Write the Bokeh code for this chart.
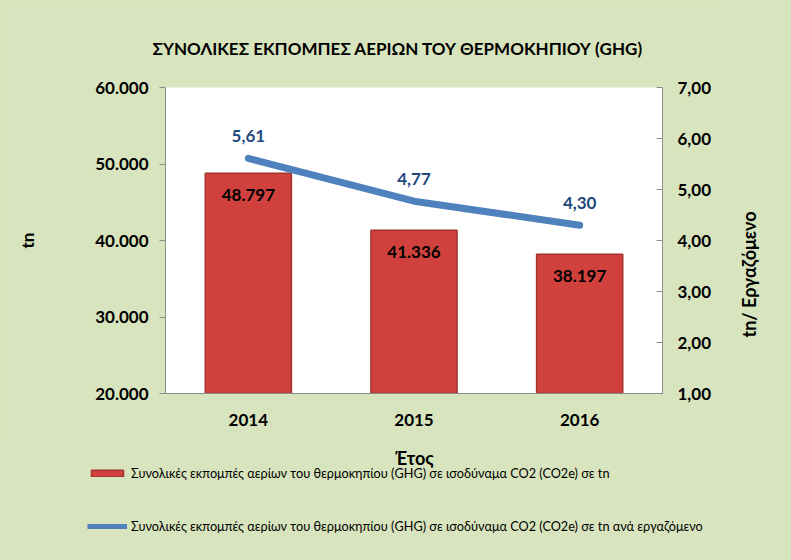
import math
from bokeh.plotting import figure
from bokeh.layouts import column, row
from bokeh.models import (Range1d, LinearAxis, FixedTicker, ColumnDataSource, LabelSet, Label,
                          Legend, LegendItem, FactorRange)
from bokeh.core.properties import value
from bokeh.embed import file_html
from bokeh.resources import INLINE

years = ["2014", "2015", "2016"]
ghg_tn = [48797, 41336, 38197]
ghg_per_employee = [5.61, 4.77, 4.30]
bar_labels = ["48.797", "41.336", "38.197"]
line_labels = ["5,61", "4,77", "4,30"]
left_ticks = [20000, 30000, 40000, 50000, 60000]
left_tick_labels = ["20.000", "30.000", "40.000", "50.000", "60.000"]
right_ticks = [1, 2, 3, 4, 5, 6, 7]
right_tick_labels = ["1,00", "2,00", "3,00", "4,00", "5,00", "6,00", "7,00"]
title_text = "ΣΥΝΟΛΙΚΕΣ ΕΚΠΟΜΠΕΣ ΑΕΡΙΩΝ ΤΟΥ ΘΕΡΜΟΚΗΠΙΟΥ (GHG)"
left_label = "tn"
right_label = "tn/ Εργαζόμενο"
x_label = "Έτος"
legend_bar = "Συνολικές εκπομπές αερίων του θερμοκηπίου (GHG) σε ισοδύναμα CO2 (CO2e) σε tn"
legend_line = "Συνολικές εκπομπές αερίων του θερμοκηπίου (GHG) σε ισοδύναμα CO2 (CO2e) σε tn ανά εργαζόμενο"

FONT = "Lato"
GREEN = "#D7E4BD"
AX_COLOR = "#8C8C8C"
BAR_FILL, BAR_LINE = "#D0403D", "#A33331"
LINE_COLOR = "#4F81BD"

src = ColumnDataSource(dict(year=years, ghg=ghg_tn, per=ghg_per_employee,
                            bar_label=bar_labels, line_label=line_labels))


def unalign(fig):
    if hasattr(fig, "frame_align"):
        fig.frame_align = False


# ---------------- main chart ----------------
p = figure(x_range=FactorRange(*years), y_range=Range1d(left_ticks[0], left_ticks[-1]),
           frame_width=497, frame_height=306, output_backend="svg", toolbar_location=None,
           min_border_left=165, min_border_right=58, min_border_top=87, min_border_bottom=47,
           background_fill_color="white", border_fill_color=GREEN, outline_line_color=None,
           title=title_text)
unalign(p)
p.extra_y_ranges = {"right": Range1d(right_ticks[0], right_ticks[-1])}
p.xgrid.visible = False
p.ygrid.visible = False

p.title.align = "left"
p.title.offset = -13
p.title.standoff = 57
p.title.text_font = FONT
p.title.text_font_size = "17px"
p.title.text_font_style = "bold"
p.title.text_color = "black"


def style_axis(ax):
    ax.axis_line_color = AX_COLOR
    ax.major_tick_line_color = AX_COLOR
    ax.minor_tick_line_color = None
    ax.major_label_text_font = FONT
    ax.major_label_text_font_style = "bold"
    ax.major_label_text_font_size = "17px"
    ax.major_label_text_color = "black"
    ax.axis_label_text_font = FONT
    ax.axis_label_text_font_style = "bold"
    ax.axis_label_text_font_size = "17px"
    ax.axis_label_text_color = "black"


ya = p.yaxis[0]
style_axis(ya)
ya.ticker = FixedTicker(ticks=left_ticks)
ya.major_label_overrides = dict(zip(left_ticks, left_tick_labels))
ya.major_tick_out = 6
ya.major_tick_in = 0
ya.major_label_standoff = 11
ya.axis_label = left_label
ya.axis_label_standoff = 54

xa = p.xaxis[0]
style_axis(xa)
xa.major_tick_line_color = None
xa.major_tick_out = 0
xa.major_label_standoff = 20

ra = LinearAxis(y_range_name="right", ticker=FixedTicker(ticks=right_ticks))
style_axis(ra)
ra.major_label_overrides = dict(zip(right_ticks, right_tick_labels))
ra.major_tick_in = 6
ra.major_tick_out = 0
ra.major_label_standoff = 15
p.add_layout(ra, "right")

bars = p.vbar(x="year", top="ghg", bottom=left_ticks[0], width=0.52, source=src,
              fill_color=BAR_FILL, line_color=BAR_LINE, line_width=1.5)
line = p.line(x="year", y="per", source=src, y_range_name="right",
              line_color=LINE_COLOR, line_width=7, line_cap="round", line_join="round")

p.add_layout(LabelSet(x="year", y="ghg", text="bar_label", source=src,
                      text_align="center", text_baseline="middle", y_offset=-22,
                      text_font=value(FONT), text_font_style="bold", text_font_size="17px",
                      text_color="black"))
p.add_layout(LabelSet(x="year", y="per", text="line_label", source=src, y_range_name="right",
                      text_align="center", text_baseline="middle", y_offset=22,
                      text_font=value(FONT), text_font_style="bold", text_font_size="17px",
                      text_color="#1F497D"))

# ---------------- right-hand axis title strip ----------------
r = figure(width=71, height=440, output_backend="svg", toolbar_location=None,
           min_border=0, x_axis_location=None, y_axis_location=None,
           background_fill_color=GREEN, border_fill_color=GREEN, outline_line_color=None)
unalign(r)
r.xgrid.visible = False
r.ygrid.visible = False
r.add_layout(Label(text=right_label, x=28, y=166, x_units="screen", y_units="screen",
                   angle=math.pi / 2, text_align="center", text_baseline="middle",
                   text_font=FONT, text_font_style="bold", text_font_size="18px",
                   text_color="black"))

# ---------------- legend strip ----------------
q = figure(x_range=FactorRange(*years), y_range=Range1d(0, 1),
           width=791, height=120, output_backend="svg", toolbar_location=None,
           min_border=0, x_axis_location=None, y_axis_location=None,
           background_fill_color=GREEN, border_fill_color=GREEN, outline_line_color=None)
unalign(q)
q.xgrid.visible = False
q.ygrid.visible = False
q_bars = q.vbar(x="year", top="ghg", width=0.52, source=src, visible=False,
                fill_color=BAR_FILL, line_color=BAR_LINE, line_width=1.5)
q_line = q.line(x="year", y="per", source=src, visible=False,
                line_color=LINE_COLOR, line_width=5)

q.add_layout(Label(text=x_label, x=414, y=103, x_units="screen", y_units="screen",
                   text_align="center", text_baseline="middle", text_font=FONT,
                   text_font_style="bold", text_font_size="18px", text_color="black"))

legend = Legend(items=[LegendItem(label=legend_bar, renderers=[q_bars]),
                       LegendItem(label=legend_line, renderers=[q_line])],
                location=(87, 24), orientation="vertical", spacing=33,
                glyph_width=40, glyph_height=8, label_height=20, padding=0, margin=0,
                border_line_color=None, background_fill_alpha=0, label_standoff=4,
                label_text_font=FONT, label_text_font_size="12.7px", label_text_color="black")
q.add_layout(legend)

layout = column(row(p, r, spacing=0, styles={"background-color": GREEN}), q, spacing=0,
                styles={"background-color": GREEN})
open("out.html", "w").write(file_html(layout, INLINE))
